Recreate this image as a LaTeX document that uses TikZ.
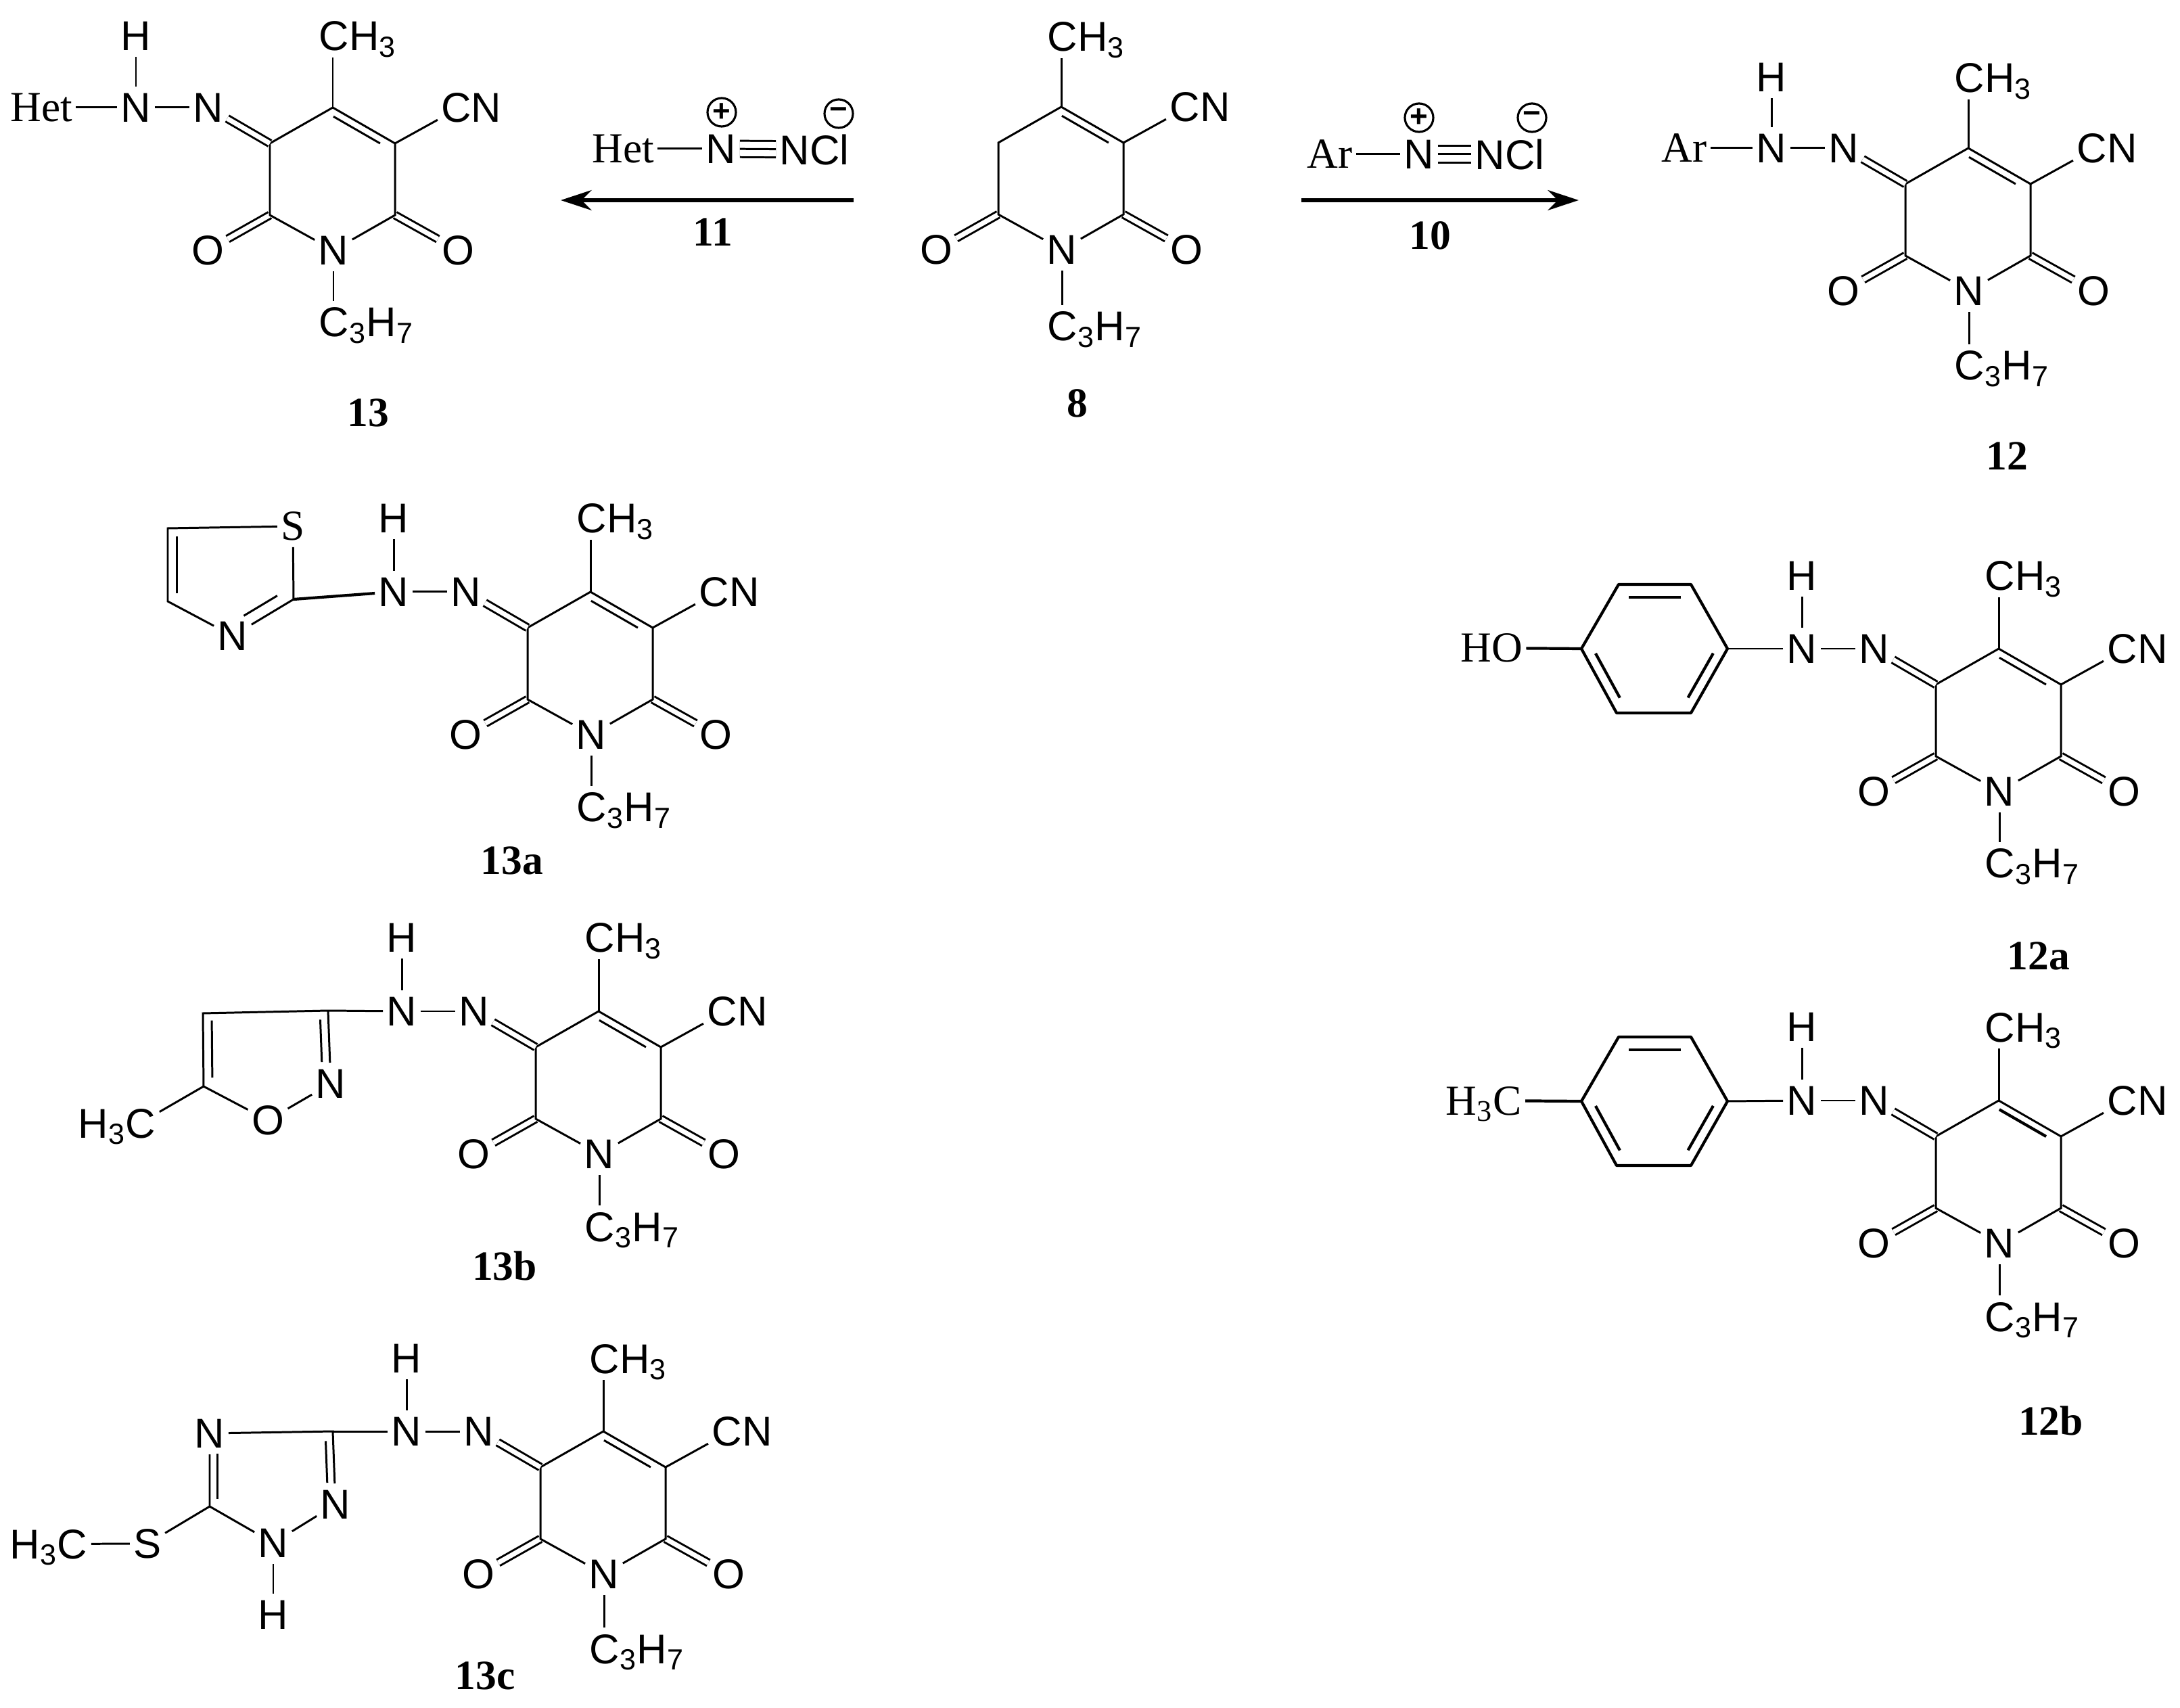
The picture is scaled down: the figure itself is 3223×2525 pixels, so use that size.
\documentclass[tikz,border=0pt]{standalone}
\usepackage{fontspec}
\setmainfont{Liberation Serif}
\setsansfont{Liberation Sans}
\usetikzlibrary{arrows.meta,calc}
\tikzset{
    atom/.style={font=\fontsize{17.5}{20}\selectfont\sffamily,inner xsep=1.4pt,inner ysep=2.6pt,text depth=0pt},
    atomr/.style={atom,font=\fontsize{18}{20}\selectfont\rmfamily},
    cmpd/.style={font=\fontsize{17.5}{20}\selectfont\rmfamily\bfseries},
    charge/.style={draw,circle,line width=0.9pt,minimum size=0.42cm,inner sep=0pt,font=\fontsize{13}{13}\selectfont\sffamily\bfseries},
    bond/.style={line width=0.85pt},
    ringbond/.style={line width=1.2pt,line join=round},
    dblbond/.style={line width=0.85pt,double,double distance=2pt},
    tplbond/.style={line width=0.85pt,double,double distance=6pt},
    rxn/.style={line width=1.5pt,-{Stealth[length=13pt,width=8.5pt]}}
}
\newcommand{\inbond}[6][bond]{\draw[#1] ($(#2)!#4!(#3)!#6!90:(#3)$) -- ($(#2)!#5!(#3)!#6!90:(#3)$);}
\begin{document}
\begin{tikzpicture}[x=0.01cm,y=-0.01cm]
    \useasboundingbox (0,0) rectangle (3223,2525);
    % pyridone ring of every compound
    \foreach \m/\ax/\ay/\tp/\bt in {8/1569/158/104/113,13/492/159/106/106,12/2910/219/104/110,13a/873/875/109/107,13b/885/1495/109/107,13c/892/2116/108/110,12a/2955/959/108/106,12b/2955/1627/109/108}{
        \coordinate (ca\m) at (\ax,\ay);
        \coordinate (cl\m) at (\ax-93,\ay+53);
        \coordinate (cr\m) at (\ax+92,\ay+53);
        \coordinate (dl\m) at (\ax-93,\ay+159);
        \coordinate (dr\m) at (\ax+92,\ay+159);
        \node[atom] (n\m) at (\ax+1,\ay+211) {N};
        \node[atom] (ol\m) at (\ax-185,\ay+211) {O};
        \node[atom] (or\m) at (\ax+185,\ay+211) {O};
        \node[atom] (cn\m) at (\ax+205,\ay) {CN};
        \node[atom,anchor=base west] (me\m) at (\ax-26,\ay-\tp+22) {CH\textsubscript{3}};
        \node[atom,anchor=base west] (pr\m) at (\ax-26,\ay+211+\bt+22) {C\textsubscript{3}H\textsubscript{7}};
        \draw[dblbond] (dl\m) -- (ol\m);
        \draw[dblbond] (dr\m) -- (or\m);
        \draw[bond] (ca\m) -- (cl\m) -- (dl\m) -- (n\m) -- (dr\m) -- (cr\m) -- (ca\m);
        \inbond{cr\m}{ca\m}{.18}{.93}{.11cm}
        \draw[bond] (cr\m) -- (cn\m.200);
        \draw[bond] (ca\m) -- (ca\m |- me\m.south);
        \draw[bond] (n\m) -- (n\m |- pr\m.north);
    }
    \inbond[ringbond]{cr12b}{ca12b}{.18}{.93}{.11cm}
    % hydrazone arm
    \foreach \m/\ax/\ay/\tp in {13/492/159/106,12/2910/219/105,13a/873/875/109,13b/885/1495/109,13c/892/2116/108,12a/2955/959/108,12b/2955/1627/109}{
        \node[atom] (nb\m) at (\ax-184,\ay) {N};
        \node[atom] (na\m) at (\ax-291,\ay) {N};
        \node[atom] (h\m) at (\ax-291,\ay-\tp) {H};
        \draw[bond] (h\m) -- (na\m) -- (nb\m);
        \draw[dblbond] (nb\m) -- (cl\m);
    }
    % 13 and 12
    \node[atomr] (het) at (61,159) {Het};
    \draw[bond] (het) -- (na13);
    \node[atomr] (ar) at (2490,219) {Ar};
    \draw[bond] (ar) -- (na12);
    % thiazole of 13a
    \node[atomr] (ts) at (433,778) {S};
    \node[atom] (tn) at (344,940) {N};
    \coordinate (tu) at (248,781);
    \coordinate (tv) at (248,889);
    \coordinate (tc) at (434,886);
    \draw[bond] (ts) -- (tu) -- (tv) -- (tn) -- (tc) -- (ts);
    \inbond{tu}{tv}{.11}{.89}{.13cm}
    \inbond{tn}{tc}{.28}{.83}{.17cm}
    \draw[ringbond] (tc) -- (na13a);
    % isoxazole of 13b
    \node[atom] (in) at (489,1602) {N};
    \node[atom] (io) at (396,1656) {O};
    \coordinate (iu) at (300,1498);
    \coordinate (iv) at (301,1606);
    \coordinate (ic) at (485,1494);
    \node[atom,anchor=base west] (ih) at (110,1682) {H\textsubscript{3}C};
    \draw[bond] (ic) -- (iu) -- (iv) -- (io) -- (in) -- (ic);
    \inbond{in}{ic}{.3}{.88}{.12cm}
    \inbond{iu}{iv}{.1}{.88}{.13cm}
    \draw[bond] (iv) -- (ih.15);
    \draw[bond] (ic) -- (na13b);
    % triazole of 13c
    \node[atom] (zt) at (310,2119) {N};
    \node[atom] (zr) at (496,2224) {N};
    \node[atom] (zl) at (404,2281) {N};
    \node[atom] (zh) at (404,2387) {H};
    \node[atom] (zs) at (218,2282) {S};
    \node[atom,anchor=base west] (zm) at (9,2304) {H\textsubscript{3}C};
    \coordinate (zc) at (492,2116);
    \coordinate (zv) at (310,2227);
    \draw[bond] (zt) -- (zc) -- (zr) -- (zl) -- (zv) -- (zt);
    \inbond{zr}{zc}{.3}{.87}{.11cm}
    \inbond{zt}{zv}{.28}{.9}{.11cm}
    \draw[bond] (zc) -- (na13c);
    \draw[bond] (zl) -- (zh);
    \draw[bond] (zv) -- (zs);
    \draw[bond] (zs) -- (zm);
    % benzene of 12a and 12b
    \foreach \m/\by in {12a/959,12b/1628}{
        \coordinate (bl\m) at (2338,\by);
        \coordinate (bu\m) at (2393,\by-95);
        \coordinate (bv\m) at (2500,\by-95);
        \coordinate (br\m) at (2554,\by);
        \coordinate (bw\m) at (2500,\by+95);
        \coordinate (bx\m) at (2390,\by+95);
        \draw[ringbond] (bl\m) -- (bu\m) -- (bv\m) -- (br\m) -- (bw\m) -- (bx\m) -- cycle;
        \inbond[ringbond]{bv\m}{bu\m}{.14}{.86}{.19cm}
        \inbond[ringbond]{bl\m}{bx\m}{.15}{.84}{.15cm}
        \inbond[ringbond]{bw\m}{br\m}{.16}{.85}{.15cm}
        \draw[bond] (br\m) -- (na\m);
    }
    \node[atomr] (ho) at (2205,958) {HO};
    \draw[ringbond] (ho) -- (bl12a);
    \node[atomr,anchor=base west] (hc) at (2132,1648) {H\textsubscript{3}C};
    \draw[ringbond] (hc) -- (bl12b);
    % diazonium salts and arrows
    \node[atomr] (rh) at (921,220) {Het};
    \node[atom] (rn) at (1066,220) {N};
    \node[atom] (rc) at (1204,221) {NCl};
    \node[charge] (rp) at (1067,166) {+};
    \node[charge] (rm) at (1240,168) {−};
    \draw[bond] (rh) -- (rn);
    \draw[tplbond] (rn) -- (rc);
    \draw[bond] (rn) -- (rc);
    \node[atomr] (sh) at (1966,228) {Ar};
    \node[atom] (sn) at (2098,228) {N};
    \node[atom] (sc) at (2232,228) {NCl};
    \node[charge] (sp) at (2098,174) {+};
    \node[charge] (sm) at (2265,174) {−};
    \draw[bond] (sh) -- (sn);
    \draw[tplbond] (sn) -- (sc);
    \draw[bond] (sn) -- (sc);
    \coordinate (ra) at (1262,296);
    \coordinate (rb) at (829,296);
    \coordinate (sa) at (1924,296);
    \coordinate (sb) at (2334,296);
    \draw[rxn] (ra) -- (rb);
    \draw[rxn] (sa) -- (sb);
    % compound numbers
    \node[cmpd] (l11) at (1054,343) {11};
    \node[cmpd] (l10) at (2114,348) {10};
    \node[cmpd] (l13) at (544,610) {13};
    \node[cmpd] (l8) at (1593,596) {8};
    \node[cmpd] (l12) at (2967,674) {12};
    \node[cmpd] (l13a) at (757,1272) {13a};
    \node[cmpd] (l13b) at (746,1871) {13b};
    \node[cmpd] (l13c) at (717,2477) {13c};
    \node[cmpd] (l12a) at (3014,1413) {12a};
    \node[cmpd] (l12b) at (3032,2100) {12b};
\end{tikzpicture}
\end{document}
